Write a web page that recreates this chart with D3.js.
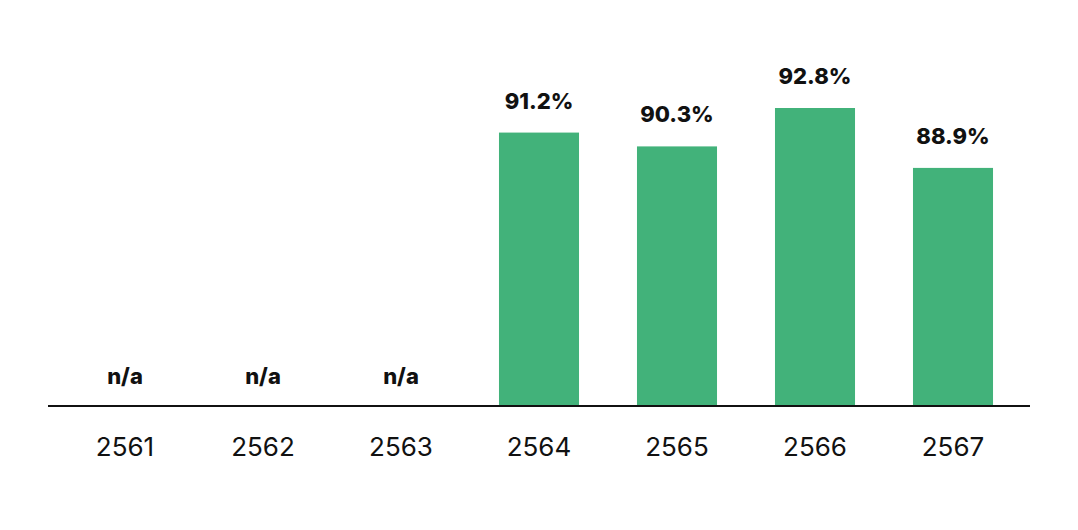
<!DOCTYPE html>
<html>
<head>
<meta charset="utf-8">
<script src="https://cdn.jsdelivr.net/npm/d3@7"></script>
<style>
  html, body { margin: 0; padding: 0; background: #ffffff; }
  svg { display: block; }
</style>
</head>
<body>
<svg id="chart" width="1078" height="530"></svg>
<script>
const categories = ["2561", "2562", "2563", "2564", "2565", "2566", "2567"];
const values = [null, null, null, 91.2, 90.3, 92.8, 88.9];
const valueLabels = ["n/a", "n/a", "n/a", "91.2%", "90.3%", "92.8%", "88.9%"];

const W = 1078, H = 530;
const svg = d3.select("#chart");
const baseY = 406;

const x = d3.scaleBand()
  .domain(categories)
  .range([56, 1022])
  .paddingInner(0.42)
  .paddingOuter(0.21);

const y = d3.scaleLinear()
  .domain([73.4, 92.8])
  .range([baseY, 108]);

const data = categories.map((c, i) => ({ c, v: values[i], label: valueLabels[i] }));

svg.selectAll("rect.bar")
  .data(data.filter(d => d.v != null))
  .join("rect")
  .attr("class", "bar")
  .attr("x", d => x(d.c))
  .attr("width", x.bandwidth())
  .attr("y", d => y(d.v))
  .attr("height", d => baseY - y(d.v))
  .attr("fill", "#42b27a");

svg.selectAll("text.val")
  .data(data)
  .join("text")
  .attr("class", "val")
  .attr("x", d => x(d.c) + x.bandwidth() / 2)
  .attr("y", d => d.v != null ? y(d.v) - 24 : baseY - 22)
  .attr("text-anchor", "middle")
  .attr("font-family", "Inter, 'Noto Sans', sans-serif")
  .attr("font-weight", 800)
  .attr("font-size", 22)
  .attr("fill", "#111")
  .text(d => d.label);

const xAxis = d3.axisBottom(x).tickSize(0).tickPadding(0);
const gx = svg.append("g")
  .attr("transform", `translate(0,${baseY})`)
  .call(xAxis);
gx.select(".domain").remove();
gx.selectAll(".tick text")
  .attr("y", 50)
  .attr("dy", 0)
  .attr("font-family", "Inter, 'Noto Sans', sans-serif")
  .attr("font-size", 26)
  .attr("fill", "#111");

svg.append("line")
  .attr("x1", 48).attr("x2", 1030)
  .attr("y1", baseY).attr("y2", baseY)
  .attr("stroke", "#111")
  .attr("stroke-width", 2);
</script>
</body>
</html>
